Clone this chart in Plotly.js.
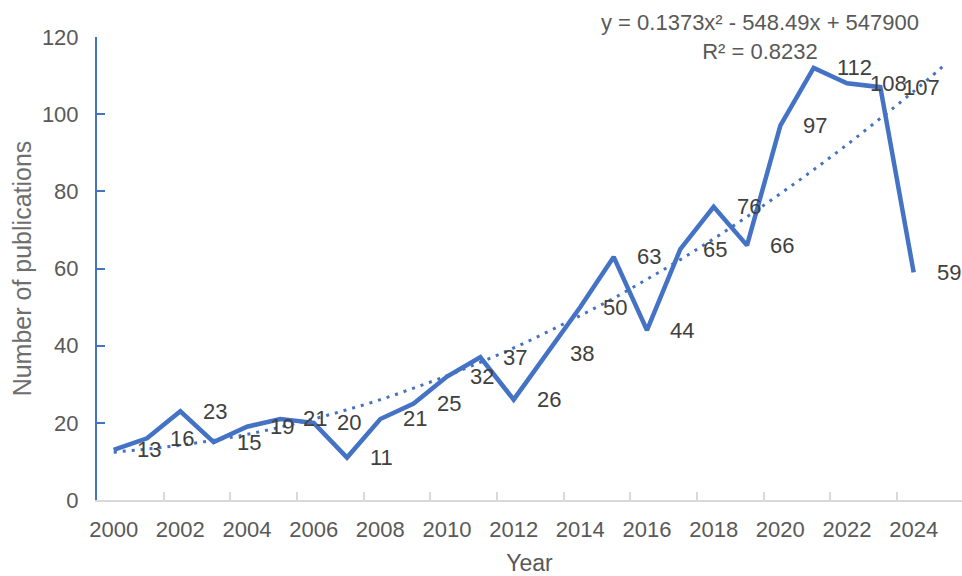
<!DOCTYPE html>
<html>
<head>
<meta charset="utf-8">
<script src="https://cdn.plot.ly/plotly-3.0.1.min.js"></script>
<style>html,body{margin:0;padding:0;background:#fff;}#chart{width:962px;height:576px;}</style>
</head>
<body>
<div id="chart"></div>
<script>
// Data
const years = [2000,2001,2002,2003,2004,2005,2006,2007,2008,2009,2010,2011,2012,2013,2014,2015,2016,2017,2018,2019,2020,2021,2022,2023,2024];
const publications = [13,16,23,15,19,21,20,11,21,25,32,37,26,38,50,63,44,65,76,66,97,112,108,107,59];
// Dotted polynomial trendline as drawn (extends one period forward)
const trendYears = [2000,2001,2002,2003,2004,2005,2006,2007,2008,2009,2010,2011,2012,2013,2014,2015,2016,2017,2018,2019,2020,2021,2022,2023,2024,2025];
const trendValues = [12.4,13.2,14.2,15.5,17.0,18.9,21.0,23.4,26.0,29.0,32.2,35.7,39.4,43.5,47.8,52.3,57.2,62.3,67.7,73.4,79.4,85.6,92.1,98.9,105.9,113.3];
const xTickLabels = ['2000','2002','2004','2006','2008','2010','2012','2014','2016','2018','2020','2022','2024'];
const xTickLabelYears = [2000,2002,2004,2006,2008,2010,2012,2014,2016,2018,2020,2022,2024];
const xTickMarks = [2001.5,2003.5,2005.5,2007.5,2009.5,2011.5,2013.5,2015.5,2017.5,2019.5,2021.5,2023.5];
const yTicks = [0,20,40,60,80,100,120];
const equationText = 'y = 0.1373x² - 548.49x + 547900<br>R² = 0.8232';

const BLUE = '#4472C4';
const FONT = 'Liberation Sans, Arial, Helvetica, sans-serif';
const xRange = [1999.5, 2025.45];

const traces = [
  {
    x: trendYears, y: trendValues, type: 'scatter', mode: 'lines',
    line: {color: BLUE, width: 3, dash: '3px,6px', shape: 'spline'},
    hoverinfo: 'skip', showlegend: false
  },
  {
    x: years, y: publications, type: 'scatter', mode: 'lines',
    line: {color: BLUE, width: 4.5},
    showlegend: false
  },
  {
    x: [years[0]], y: [0], xaxis: 'x2', type: 'scatter', mode: 'markers',
    marker: {opacity: 0, size: 1}, hoverinfo: 'skip', showlegend: false
  }
];

const annotations = years.map((yr, i) => ({
  x: yr, y: publications[i], xref: 'x', yref: 'y',
  text: String(publications[i]), showarrow: false,
  xanchor: 'left', yanchor: 'middle', xshift: 21,
  font: {family: FONT, size: 22, color: '#404040'}
}));
annotations.push({
  x: 0.7665, y: 1.0, xref: 'paper', yref: 'paper',
  text: equationText, showarrow: false, align: 'center',
  xanchor: 'center', yanchor: 'middle',
  font: {family: FONT, size: 22, color: '#595959'}
});

const layout = {
  width: 962, height: 576,
  margin: {l: 97, r: 0, t: 37, b: 76, pad: 0},
  paper_bgcolor: '#ffffff', plot_bgcolor: '#ffffff',
  font: {family: FONT, color: '#595959'},
  xaxis: {
    range: xRange, showgrid: false, zeroline: false,
    showline: true, linecolor: '#d9d9d9', linewidth: 2,
    tickmode: 'array', tickvals: xTickMarks, ticktext: xTickMarks.map(() => ''),
    ticks: 'inside', ticklen: 8, tickwidth: 2, tickcolor: '#d9d9d9',
    fixedrange: true
  },
  xaxis2: {
    range: xRange, overlaying: 'x', side: 'bottom', anchor: 'y',
    showgrid: false, zeroline: false, showline: false,
    tickmode: 'array', tickvals: xTickLabelYears, ticktext: xTickLabels,
    ticks: '', ticklabelstandoff: 14,
    tickfont: {family: FONT, size: 22, color: '#595959'},
    title: {text: 'Year', font: {family: FONT, size: 23, color: '#595959'}, standoff: 22},
    fixedrange: true
  },
  yaxis: {
    range: [0, 120], showgrid: false, zeroline: false,
    showline: true, linecolor: BLUE, linewidth: 2,
    tickmode: 'array', tickvals: yTicks,
    ticks: 'inside', ticklen: 8, tickwidth: 2, tickcolor: BLUE,
    ticklabelstandoff: 12,
    tickfont: {family: FONT, size: 22, color: '#595959'},
    title: {text: 'Number of publications', font: {family: FONT, size: 25, color: '#6e6e6e'}, standoff: 3},
    fixedrange: true
  },
  annotations: annotations,
  showlegend: false
};

Plotly.newPlot('chart', traces, layout, {staticPlot: true, displayModeBar: false});
</script>
</body>
</html>
